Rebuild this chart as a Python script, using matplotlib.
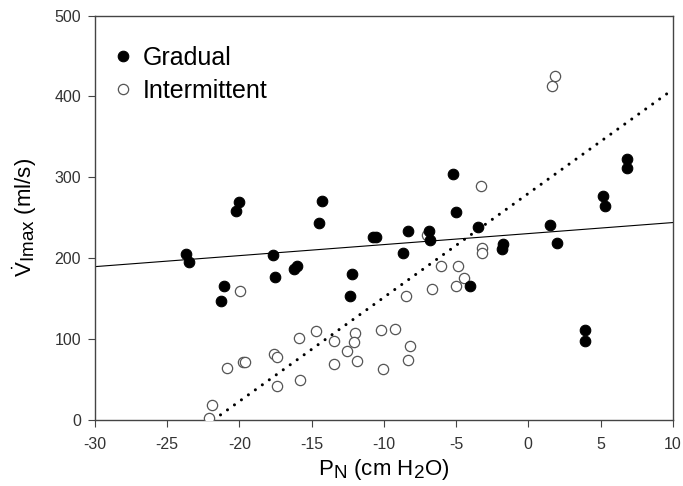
import matplotlib
matplotlib.use("Agg")
import matplotlib.pyplot as plt
import matplotlib._mathtext as _mt
import numpy as np

plt.rcParams['font.family'] = ['Liberation Sans', 'DejaVu Sans']
plt.rcParams['mathtext.fontset'] = 'custom'
plt.rcParams['mathtext.rm'] = 'Liberation Sans'
plt.rcParams['mathtext.it'] = 'Liberation Sans:italic'
plt.rcParams['mathtext.bf'] = 'Liberation Sans:bold'
plt.rcParams['axes.unicode_minus'] = False
_mt.SHRINK_FACTOR = 0.85

# Gradual (filled)
grad_x = [-23.7, -23.5, -21.1, -21.25, -20.23, -20.05, -17.7, -17.56, -16.19, -16.03,
          -14.3, -14.46, -12.18, -12.34, -10.73, -10.54, -8.35, -8.7, -6.9, -6.8,
          -5.24, -5.03, -3.48, -4.04, -1.73, -1.8, 1.47, 1.98, 3.9, 3.9,
          5.17, 5.33, 6.8, 6.8]
grad_y = [205, 195, 165, 147, 258, 269, 204, 177, 186, 190,
          271, 243, 181, 153, 226, 226, 234, 207, 234, 222,
          304, 257, 238, 166, 218, 211, 241, 219, 111, 97,
          277, 265, 323, 312]

# Intermittent (open)
int_x = [-19.95, -21.9, -22.08, -20.88, -19.77, -19.63, -17.58, -17.39, -17.39, -15.9,
         -15.78, -14.69, -13.43, -13.47, -12.55, -12.0, -12.04, -11.86, -10.2, -10.08,
         -9.23, -8.21, -8.3, -8.5, -6.69, -6.04, -4.84, -4.47, -5.03, -3.23,
         -3.23, -7.0, -3.28, 1.64, 1.87]
int_y = [159, 19, 2, 64, 71, 71, 81, 78, 42, 101,
         49, 110, 98, 69, 85, 108, 96, 73, 111, 63,
         113, 92, 74, 153, 162, 190, 190, 175, 166, 212,
         206, 229, 289, 413, 425]

# Regression lines (slope, intercept)
grad_fit = (1.3625, 230.4)
int_fit = (12.85, 280.0)

fig = plt.figure(figsize=(6.83, 4.86), dpi=100)
ax = fig.add_axes([0.139, 0.136, 0.846, 0.832])

xs = np.array([-30, 10])
ax.plot(xs, grad_fit[0] * xs + grad_fit[1], color='black', lw=0.8, zorder=2)
x0 = -int_fit[1] / int_fit[0]
xd = np.array([x0, 10])
ax.plot(xd, int_fit[0] * xd + int_fit[1], color='black', lw=2.2,
        linestyle=(0, (0.01, 2.8)), dash_capstyle='round', zorder=2)

ax.plot(int_x, int_y, 'o', mfc='white', mec='#555555', ms=7.4, mew=0.9,
        zorder=3, label='Intermittent')
ax.plot(grad_x, grad_y, 'o', color='black', ms=7.6, mec='black', mew=0.8,
        zorder=4, label='Gradual')

ax.set_xlim(-30, 10)
ax.set_ylim(0, 500)
ax.set_xticks(np.arange(-30, 11, 5))
ax.set_yticks(np.arange(0, 501, 100))
for s in ax.spines.values():
    s.set_color('#444444')
    s.set_linewidth(1.0)
ax.tick_params(direction='out', length=5, width=0.8, colors='#444444',
               labelsize=11.5, labelcolor='#333333')
ax.tick_params(axis='x', pad=7)
ax.tick_params(axis='y', pad=5)

ax.set_xlabel(r'$\mathrm{P}_{\mathrm{N}}$ (cm H$_2$O)', fontsize=16, labelpad=4)
ax.set_ylabel(r'$\dot{\mathrm{V}}_{\mathrm{Imax}}$ (ml/s)', fontsize=16, labelpad=11)

handles, labels = ax.get_legend_handles_labels()
leg = ax.legend(handles[::-1], labels[::-1], loc='upper left', frameon=False,
                fontsize=18, handletextpad=0.2, borderaxespad=0.0,
                bbox_to_anchor=(0.0095, 0.943),
                markerscale=1.0, labelspacing=0.35, handlelength=1.2,
                borderpad=0.3)

fig.savefig('out.png', dpi=100)
